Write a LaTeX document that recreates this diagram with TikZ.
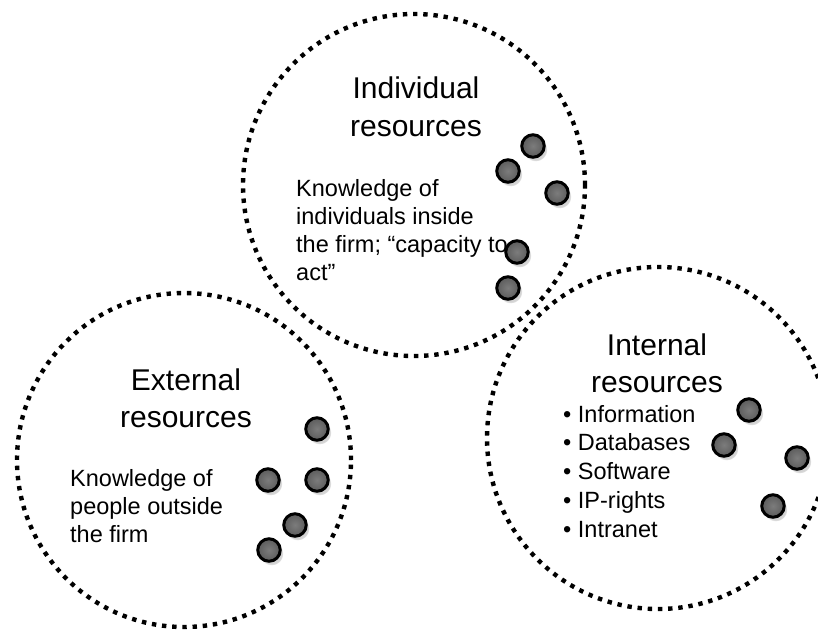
\documentclass[tikz,border=0pt]{standalone}
\usepackage{fontspec}
\setmainfont{Liberation Sans}
\usetikzlibrary{shadows}
\definecolor{dotin}{HTML}{7C7C7C}
\definecolor{dotout}{HTML}{5C5C5C}
\tikzset{
  ring/.style={circle, draw=black, line width=4.4pt, dash pattern=on 4.4pt off 5.8pt, minimum size=342pt, inner sep=0pt},
  marble/.style={circle, draw=black, line width=3pt, minimum size=22.5pt, inner sep=0pt,
    inner color=dotin, outer color=dotout,
    circular drop shadow={shadow xshift=2.5pt, shadow yshift=-3.5pt, opacity=0.35, shadow scale=1.05}},
  titletxt/.style={anchor=base, inner sep=0pt, font=\fontsize{30}{36}\selectfont},
  bodytxt/.style={anchor=base west, inner sep=0pt, font=\fontsize{23.5}{28}\selectfont},
}
\begin{document}
\begin{tikzpicture}[x=1pt,y=-1pt]
\useasboundingbox (0,0) rectangle (818,630);
% circles
\node[ring] (ctop) at (414,185) {};
\node[ring, minimum size=334pt] (cleft) at (184,460) {};
\node[ring] (cright) at (658,438) {};
% top texts
\node[titletxt] (t1a) at (416,98) {Individual};
\node[titletxt] (t1b) at (416,136) {resources};
\node[bodytxt] (b1a) at (296,196) {Knowledge of};
\node[bodytxt] (b1b) at (296,224) {individuals inside};
\node[bodytxt] (b1c) at (296,252) {the firm; “capacity to};
\node[bodytxt] (b1d) at (296,280) {act”};
% left texts
\node[titletxt] (t2a) at (186,390) {External};
\node[titletxt] (t2b) at (186,427) {resources};
\node[bodytxt] (b2a) at (70,486) {Knowledge of};
\node[bodytxt] (b2b) at (70,514) {people outside};
\node[bodytxt] (b2c) at (70,542) {the firm};
% right texts
\node[titletxt] (t3a) at (657,355) {Internal};
\node[titletxt] (t3b) at (657,392) {resources};
\node[bodytxt] (b3a) at (563,422) {• Information};
\node[bodytxt] (b3b) at (563,450.5) {• Databases};
\node[bodytxt] (b3c) at (563,479) {• Software};
\node[bodytxt] (b3d) at (563,508) {• IP-rights};
\node[bodytxt] (b3e) at (563,537) {• Intranet};
% dots top
\node[marble] (m1) at (533,146) {};
\node[marble] (m2) at (508,171) {};
\node[marble] (m3) at (557,193) {};
\node[marble] (m4) at (517,252) {};
\node[marble] (m5) at (508,288) {};
% dots left
\node[marble] (m6) at (317,429) {};
\node[marble] (m7) at (268,480) {};
\node[marble] (m8) at (317,480) {};
\node[marble] (m9) at (295,525) {};
\node[marble] (m10) at (269,550) {};
% dots right
\node[marble] (m11) at (749,410) {};
\node[marble] (m12) at (724,445) {};
\node[marble] (m13) at (797,458) {};
\node[marble] (m14) at (773,506) {};
\end{tikzpicture}
\end{document}
